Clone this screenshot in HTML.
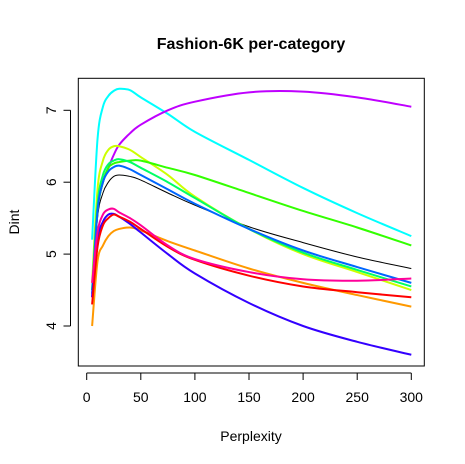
<!DOCTYPE html>
<html><head><meta charset="utf-8"><style>
html,body{margin:0;padding:0;background:#fff;width:465px;height:464px;overflow:hidden}
text{font-family:"Liberation Sans",Arial,sans-serif;fill:#000}
</style></head><body>
<svg id="chart" width="465" height="464" viewBox="0 0 465 464" xmlns="http://www.w3.org/2000/svg">
<text x="251" y="49" text-anchor="middle" font-size="16" font-weight="bold">Fashion-6K per-category</text>
<rect x="78.3" y="78.3" width="346" height="287.7" fill="none" stroke="#000" stroke-width="1"/>
<g id="series"></g>
<g id="xaxis"></g>
<g id="yaxis"></g>
<text x="251" y="441" text-anchor="middle" font-size="14">Perplexity</text>
<text transform="translate(19,222) rotate(-90)" text-anchor="middle" font-size="14">Dint</text>
</svg>
<script>
const perplexity = [5,10,15,20,25,30,40,50,75,100,150,200,250,300];
const seriesNames = ["black","cyan","purple","yellowgreen","green","springgreen","blue","red","pink","violetblue","orange"];
const seriesColors = ["#000000","#00ffff","#bf00ff","#ccff00","#33ff00","#00ff66","#0066ff","#ff0000","#ff0099","#3300ff","#ff9900"];
const sBlack = [4.4,5.5,5.85,6.0,6.08,6.1,6.08,6.03,5.85,5.68,5.38,5.16,4.96,4.8];
const sCyan = [5.2,6.6,7.05,7.2,7.27,7.3,7.28,7.18,6.95,6.7,6.31,5.92,5.57,5.25];
const sPurple = [4.4,5.6,6.0,6.2,6.38,6.52,6.68,6.8,7.0,7.12,7.25,7.26,7.18,7.05];
const sYellowGreen = [4.6,5.9,6.3,6.45,6.5,6.5,6.45,6.35,6.1,5.8,5.35,5.0,4.75,4.5];
const sGreen = [4.5,5.6,6.0,6.2,6.26,6.28,6.3,6.3,6.2,6.1,5.85,5.6,5.37,5.12];
const sSpringGreen = [4.5,5.7,6.1,6.25,6.3,6.32,6.28,6.2,6.0,5.78,5.35,5.02,4.78,4.55];
const sBlue = [4.45,5.6,6.0,6.15,6.21,6.23,6.18,6.1,5.9,5.7,5.35,5.05,4.82,4.6];
const sRed = [4.3,5.1,5.4,5.5,5.55,5.52,5.45,5.35,5.1,4.92,4.7,4.55,4.47,4.4];
const sPink = [4.6,5.3,5.55,5.62,5.63,5.58,5.5,5.4,5.12,4.93,4.75,4.65,4.63,4.66];
const sVioletBlue = [4.4,5.2,5.45,5.55,5.56,5.52,5.42,5.3,5.0,4.73,4.32,4.0,3.78,3.6];
const sOrange = [4.0,4.9,5.12,5.25,5.32,5.35,5.37,5.33,5.18,5.05,4.8,4.6,4.43,4.27];
const seriesValues = [sBlack,sCyan,sPurple,sYellowGreen,sGreen,sSpringGreen,sBlue,sRed,sPink,sVioletBlue,sOrange];
const xTicks = [0,50,100,150,200,250,300];
const yTicks = [4,5,6,7];

const NS = "http://www.w3.org/2000/svg";
function xs(v){ return 86.7 + v*(411.3-86.7)/300; }
function ys(v){ return 326 - (v-4)*(326-110.3)/3; }

const g = document.getElementById('series');
const order = [0,1,2,3,4,5,6,10,9,7,8];
order.forEach(i=>{
  const vals = seriesValues[i];
  const p = document.createElementNS(NS,'path');
  let pts = perplexity.map((x,j)=>[xs(x),ys(vals[j])]);
  let d = "M"+pts[0][0]+","+pts[0][1];
  for(let k=0;k<pts.length-1;k++){
    const p0=pts[Math.max(k-1,0)],p1=pts[k],p2=pts[k+1],p3=pts[Math.min(k+2,pts.length-1)];
    const c1=[p1[0]+(p2[0]-p0[0])/6,p1[1]+(p2[1]-p0[1])/6];
    const c2=[p2[0]-(p3[0]-p1[0])/6,p2[1]-(p3[1]-p1[1])/6];
    d+=" C"+c1[0]+","+c1[1]+" "+c2[0]+","+c2[1]+" "+p2[0]+","+p2[1];
  }
  p.setAttribute('d',d);
  p.setAttribute('fill','none');
  p.setAttribute('stroke',seriesColors[i]);
  p.setAttribute('stroke-width', i===0?1:2);
  
  
  g.appendChild(p);
});

const xa = document.getElementById('xaxis');
const xl = document.createElementNS(NS,'line');
xl.setAttribute('x1',xs(0));xl.setAttribute('x2',xs(300));xl.setAttribute('y1',373);xl.setAttribute('y2',373);xl.setAttribute('stroke','#000');


xa.appendChild(xl);
xTicks.forEach(t=>{
  const l=document.createElementNS(NS,'line');
  l.setAttribute('x1',xs(t));l.setAttribute('x2',xs(t));l.setAttribute('y1',373);l.setAttribute('y2',380);l.setAttribute('stroke','#000');
  
  
  xa.appendChild(l);
  const tx=document.createElementNS(NS,'text');
  tx.setAttribute('x',xs(t));tx.setAttribute('y',402);tx.setAttribute('text-anchor','middle');tx.setAttribute('font-size','14');
  tx.textContent=t;
  
  
  xa.appendChild(tx);
});
const ya = document.getElementById('yaxis');
const yl = document.createElementNS(NS,'line');
yl.setAttribute('x1',70.5);yl.setAttribute('x2',70.5);yl.setAttribute('y1',ys(4));yl.setAttribute('y2',ys(7));yl.setAttribute('stroke','#000');


ya.appendChild(yl);
yTicks.forEach(t=>{
  const l=document.createElementNS(NS,'line');
  l.setAttribute('x1',63.5);l.setAttribute('x2',70.5);l.setAttribute('y1',ys(t));l.setAttribute('y2',ys(t));l.setAttribute('stroke','#000');
  
  
  ya.appendChild(l);
  const tx=document.createElementNS(NS,'text');
  tx.setAttribute('transform','translate(56,'+ys(t)+') rotate(-90)');tx.setAttribute('text-anchor','middle');tx.setAttribute('font-size','14');
  tx.textContent=t;
  
  
  ya.appendChild(tx);
});
</script>
</body></html>
